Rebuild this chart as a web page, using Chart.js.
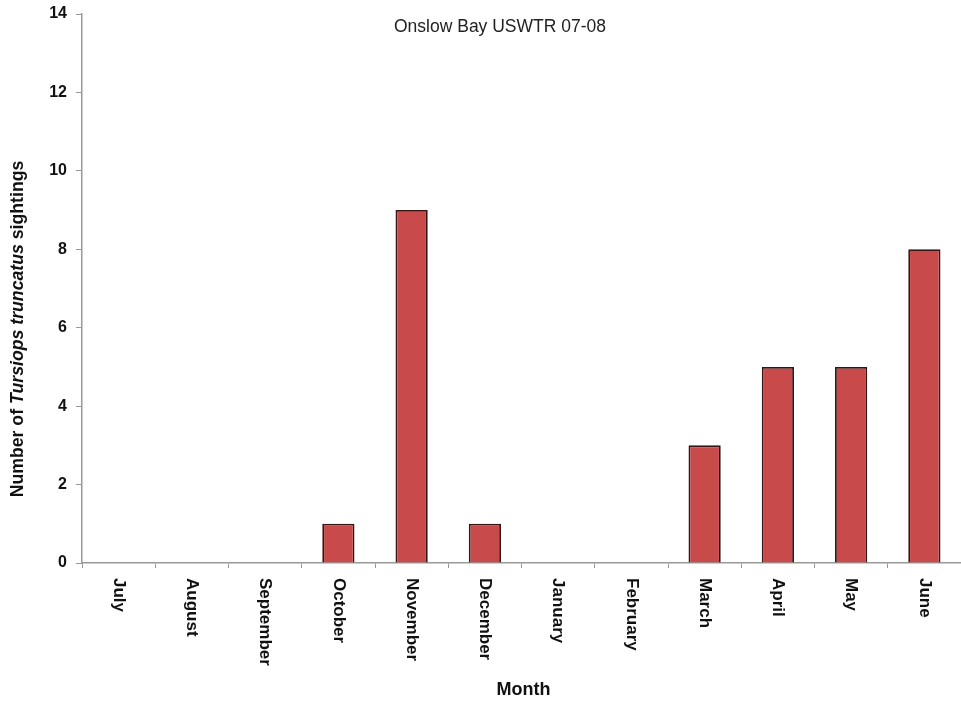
<!DOCTYPE html>
<html>
<head>
<meta charset="utf-8">
<script src="https://cdn.jsdelivr.net/npm/chart.js@4/dist/chart.umd.min.js"></script>
<style>
  html, body { margin: 0; padding: 0; background: #fff; }
  #wrap { width: 961px; height: 704px; }
</style>
</head>
<body>
<div id="wrap"><canvas id="c" width="961" height="704"></canvas></div>
<script>
const months = ["July","August","September","October","November","December","January","February","March","April","May","June"];
const sightings = [0,0,0,1,9,1,0,0,3,5,5,8];
const yMin = 0, yMax = 14, yStep = 2;
const chartTitle = "Onslow Bay USWTR 07-08";
const xTitle = "Month";
const yTitleParts = [
  { text: "Number of ", italic: false },
  { text: "Tursiops truncatus", italic: true },
  { text: " sightings", italic: false }
];

const FONT = "'Liberation Sans', Arial, sans-serif";

const decor = {
  id: 'decor',
  afterDraw(chart) {
    const ctx = chart.ctx;
    const xs = chart.scales.x;
    const area = chart.chartArea;
    ctx.save();
    // chart title inside plot
    ctx.fillStyle = '#222';
    ctx.font = "17.5px " + FONT;
    ctx.textAlign = 'center';
    ctx.textBaseline = 'middle';
    ctx.fillText(chartTitle, 500, 27);

    // x category labels rotated clockwise
    ctx.font = "bold 17px " + FONT;
    ctx.fillStyle = '#111';
    months.forEach((m, i) => {
      const x = xs.getPixelForValue(i);
      ctx.save();
      ctx.translate(x, area.bottom + 15);
      ctx.rotate(Math.PI / 2);
      ctx.textAlign = 'left';
      ctx.textBaseline = 'middle';
      ctx.fillText(m, 0, 0);
      ctx.restore();
    });

    // x title
    ctx.font = "bold 18px " + FONT;
    ctx.textAlign = 'center';
    ctx.textBaseline = 'middle';
    ctx.fillText(xTitle, (area.left + area.right) / 2 + 2, 690);

    // y title with italic part
    ctx.save();
    ctx.translate(18, 329);
    ctx.rotate(-Math.PI / 2);
    const fonts = yTitleParts.map(p => (p.italic ? "italic " : "") + "bold 17.7px " + FONT);
    let total = 0;
    const widths = yTitleParts.map((p, i) => { ctx.font = fonts[i]; const w = ctx.measureText(p.text).width; total += w; return w; });
    let cx = -total / 2;
    ctx.textAlign = 'left';
    ctx.textBaseline = 'middle';
    yTitleParts.forEach((p, i) => { ctx.font = fonts[i]; ctx.fillText(p.text, cx, 0); cx += widths[i]; });
    ctx.restore();

    ctx.restore();
  }
};

new Chart(document.getElementById('c'), {
  type: 'bar',
  data: {
    labels: months,
    datasets: [{
      data: sightings,
      backgroundColor: '#C84A4B',
      borderColor: '#361515',
      borderWidth: 1.8,
      barPercentage: 0.44,
      categoryPercentage: 1.0
    }]
  },
  options: {
    responsive: false,
    animation: false,
    devicePixelRatio: 1,
    layout: { padding: { left: 0, top: 14, right: 0, bottom: 0 } },
    plugins: { legend: { display: false }, title: { display: false }, tooltip: { enabled: false } },
    scales: {
      x: {
        offset: true,
        grid: { display: true, drawOnChartArea: false, offset: true, tickLength: 5, color: '#999' },
        border: { color: '#999', width: 1.5 },
        ticks: { display: false },
        afterFit(s) { s.height = 141; s.paddingLeft = 0; s.paddingRight = 0; }
      },
      y: {
        min: yMin, max: yMax,
        ticks: { stepSize: yStep, color: '#111', font: { family: FONT, size: 16, weight: 'bold' }, padding: 9 },
        grid: { display: true, drawOnChartArea: false, tickLength: 6, color: '#999' },
        border: { color: '#999', width: 1.5 },
        afterFit(s) { s.width = 82; s.paddingTop = 0; s.paddingBottom = 0; }
      }
    }
  },
  plugins: [decor]
});
</script>
</body>
</html>
